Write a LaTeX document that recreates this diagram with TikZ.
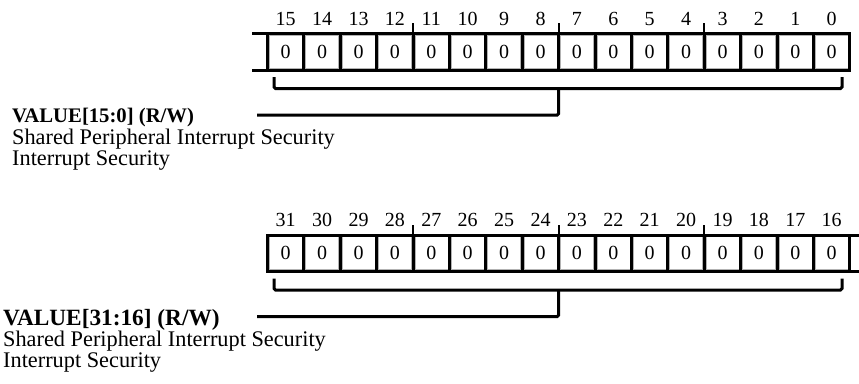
\documentclass[tikz,border=0pt]{standalone}
\usepackage{fontspec}
\setmainfont{Liberation Serif}
\begin{document}
\begin{tikzpicture}[x=1pt,y=-1pt,
  cellbox/.style={draw=black!30,line width=0.6pt,minimum width=33pt,minimum height=33pt,inner sep=0pt,font=\fontsize{20}{22}\selectfont},
  bitnum/.style={anchor=base,inner sep=0pt,font=\fontsize{20}{22}\selectfont},
  thick line/.style={line width=3pt,line cap=rect},
  bracket/.style={line width=3pt,rounded corners=1.5pt},
  desc/.style={anchor=base west,inner sep=0pt,font=\fontsize{22.3}{24}\selectfont}]
\useasboundingbox (0,0) rectangle (859,383);
\def\cw{36.4}
\def\xl{267.5}
% ---------- registers ----------
\foreach \r/\yo/\base in {a/0/15,b/201.5/31}{
  \foreach \i in {0,...,15}{
    \pgfmathsetmacro\xc{\xl+\i*\cw+\cw/2}
    \pgfmathtruncatemacro\bn{\base-\i}
    \node[cellbox] (\r c\i) at (\xc,51.75+\yo) {\raisebox{-1.5pt}{0}};
    \node[bitnum] (\r n\i) at (\xc,25+\yo) {\bn};
  }
  \foreach \k in {0,...,16}{
    \pgfmathsetmacro\xk{\xl+\k*\cw}
    \coordinate (\r t\k) at (\xk,33.5+\yo);
    \coordinate (\r b\k) at (\xk,70+\yo);
    \draw[line width=3pt] (\r t\k) -- (\r b\k);
  }
  \foreach \k in {4,8,12}{
    \draw[line width=2pt] (\r t\k) -- ++(0,-10.5);
  }
}
% horizontal borders
\coordinate (aL) at (253,33.5);
\coordinate (aLb) at (253,70);
\draw[thick line] (aL) -- (at16);
\draw[thick line] (aLb) -- (ab16);
\coordinate (bR) at (860,235);
\coordinate (bRb) at (860,271.5);
\draw[thick line] (bt0) -- (bR);
\draw[thick line] (bb0) -- (bRb);
% ---------- brackets ----------
\foreach \r/\yo in {a/0,b/201.5}{
  \coordinate (\r bl) at (274,77+\yo);
  \coordinate (\r br) at (842,77+\yo);
  \coordinate (\r bm) at (558.7,88.5+\yo);
  \coordinate (\r end) at (257,115+\yo);
  \draw[bracket] (\r bl) -- (274,88.5+\yo) -- (842,88.5+\yo) -- (\r br);
  \draw[bracket] (\r bm) |- (\r end);
}
% ---------- labels ----------
\node[desc,font=\fontsize{20.7}{24}\selectfont\bfseries] (al1) at (12,122) {VALUE[15:0] (R/W)};
\node[desc] (al2) at (12,144.5) {Shared Peripheral Interrupt Security};
\node[desc] (al3) at (12,165.5) {Interrupt Security};
\node[desc,font=\fontsize{23.3}{24}\selectfont\bfseries] (bl1) at (3,325.5) {VALUE[31:16] (R/W)};
\node[desc] (bl2) at (3,346.5) {Shared Peripheral Interrupt Security};
\node[desc] (bl3) at (3,367.5) {Interrupt Security};
\end{tikzpicture}
\end{document}
